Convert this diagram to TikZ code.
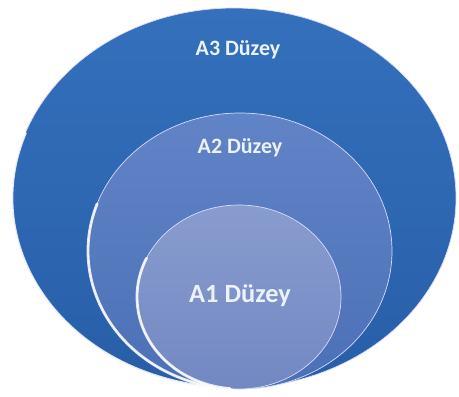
\documentclass[tikz,border=0pt]{standalone}
\usepackage{fontspec}
\setmainfont{Carlito}
\usepackage{tikz}
\usetikzlibrary{shapes,positioning}
\definecolor{outerblue}{RGB}{52,112,188}
\definecolor{outerdark}{RGB}{40,94,168}
\definecolor{midblue}{RGB}{96,132,198}
\definecolor{middark}{RGB}{76,112,182}
\definecolor{innerblue}{RGB}{136,156,206}
\definecolor{innerdark}{RGB}{114,136,194}
\definecolor{labelwhite}{RGB}{236,242,250}

\begin{document}
\begin{tikzpicture}[x=0.02cm,y=-0.02cm]
\tikzstyle{level}=[draw=white!85!blue, line width=0.4pt]
\tikzstyle{rim}=[draw=white, line width=1.6pt, opacity=0.85, line cap=round]
\tikzstyle{lbl}=[text=labelwhite]
\useasboundingbox (0,0) rectangle (459,396);

	% outer level
	\shade[level, top color=outerblue, bottom color=outerdark] (234,198) ellipse (222 and 190);
	\draw[rim] ([shift={(200:222 and 190)}]234,198) arc[start angle=200, end angle=78, x radius=222, y radius=190];
	% middle level
	\shade[level, top color=midblue, bottom color=middark] (240,251) ellipse (152 and 138);
	\draw[rim] ([shift={(200:152 and 138)}]240,251) arc[start angle=200, end angle=85, x radius=152, y radius=138];
	% inner level
	\shade[level, top color=innerblue, bottom color=innerdark] (239,297) ellipse (102 and 92);
	\draw[rim] ([shift={(205:102 and 92)}]239,297) arc[start angle=205, end angle=95, x radius=102, y radius=92];

	\node[lbl, font=\bfseries\fontsize{12.5}{15}\selectfont] (a_3) at (238,50) {A3 Düzey};
	\node[lbl, font=\bfseries\fontsize{12.5}{15}\selectfont] (a_2) at (240,148) {A2 Düzey};
	\node[lbl, font=\bfseries\fontsize{15}{18}\selectfont] (a_1) at (240,296) {A1 Düzey};

\end{tikzpicture}
\end{document}
